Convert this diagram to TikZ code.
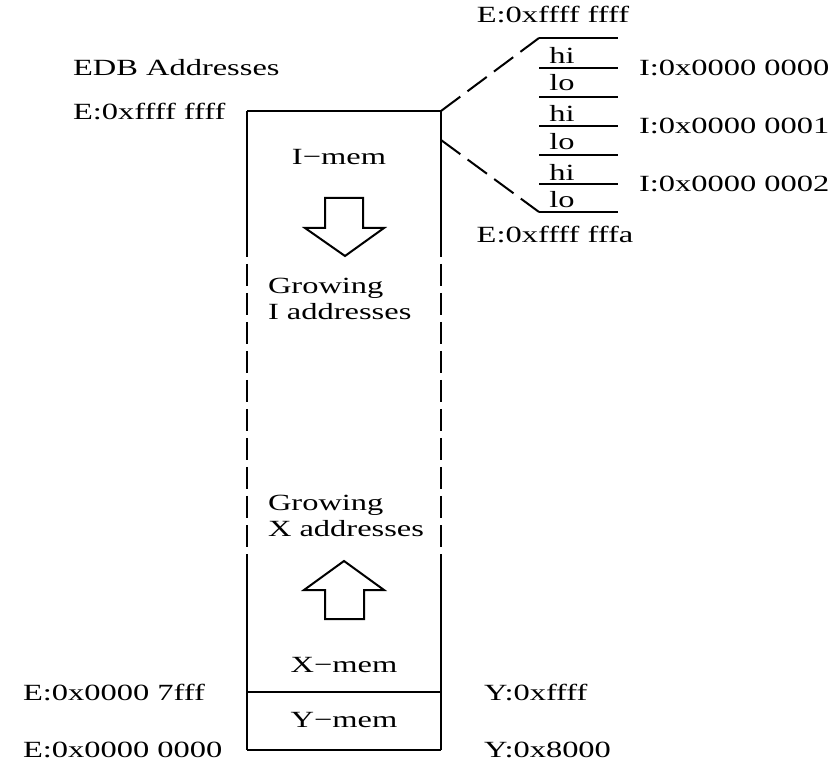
\documentclass[tikz,border=0pt]{standalone}
\usepackage{fontspec}
\setmainfont{Liberation Serif}
\newfontfamily\widefont[FakeStretch=1.4]{Liberation Serif}
\usetikzlibrary{calc}
\def\tikzscale{0.5}

\begin{document}
\begin{tikzpicture}[x=\tikzscale pt,y=-\tikzscale pt,line width=1pt,
  lbl/.style={inner sep=0pt,font=\widefont\fontsize{11.6}{13}\selectfont},
  wline/.style={dash pattern=on 11pt off 3.5pt},
  zline/.style={dash pattern=on 12pt off 4.5pt}]
\useasboundingbox (0,0) rectangle (839,763);
% box corners
\coordinate (tl) at (247,111);
\coordinate (tr) at (441,111);
\coordinate (bl) at (247,750);
\coordinate (br) at (441,750);
\coordinate (ml) at (247,692);
\coordinate (mr) at (441,692);
\coordinate (zr) at (441,140);
\draw (tl) -- (tr);
\draw (bl) -- (br);
\draw (ml) -- (mr);
\draw (tl) -- (247,235);
\draw[wline] (247,235) -- (247,560);
\draw (247,560) -- (bl);
\draw (tr) -- (441,235);
\draw[wline] (441,235) -- (441,560);
\draw (441,560) -- (br);
% labels left
\node[lbl,anchor=west] (edb) at (72,68) {EDB Addresses};
\node[lbl,anchor=west] (etop) at (72,112) {E:0xffff ffff};
\node[lbl,anchor=west] (e7fff) at (22,692) {E:0x0000 7fff};
\node[lbl,anchor=west] (ezero) at (22,750) {E:0x0000 0000};
\node[lbl,anchor=west] (yffff) at (483,692) {Y:0xffff};
\node[lbl,anchor=west] (y8000) at (483,750) {Y:0x8000};
% inside the box
\node[lbl] (imem) at (339,157) {I−mem};
\node[lbl] (xmem) at (344,665) {X−mem};
\node[lbl] (ymem) at (344,720) {Y−mem};
\node[lbl,anchor=west,align=left] (igrow) at (267,299) {Growing\\I addresses};
\node[lbl,anchor=west,align=left] (xgrow) at (267,516) {Growing\\X addresses};
\draw (325,198) -- (363,198) -- (363,228) -- (384,228) -- (345,256)
  -- (305,228) -- (325,228) -- cycle;
\draw (344,561) -- (384,590) -- (364,590) -- (364,619) -- (325,619)
  -- (325,590) -- (304,590) -- cycle;
% zoomed word stack
\foreach \y [count=\i] in {38,68,97,126,155,184,212}
  \draw (539,\y) coordinate (s\i) -- (618,\y);
\draw[zline] (tr) -- (s1);
\draw[zline] (zr) -- (s7);
\foreach \y/\t [count=\i] in {55/hi,83/lo,113/hi,142/lo,172/hi,200/lo}
  \node[lbl] (w\i) at (562,\y) {\t};
\node[lbl,anchor=west] (ia0) at (638,68) {I:0x0000 0000};
\node[lbl,anchor=west] (ia1) at (638,126) {I:0x0000 0001};
\node[lbl,anchor=west] (ia2) at (638,184) {I:0x0000 0002};
\node[lbl] (eff) at (553,15) {E:0xffff ffff};
\node[lbl] (efa) at (555,235) {E:0xffff fffa};
\end{tikzpicture}
\end{document}
